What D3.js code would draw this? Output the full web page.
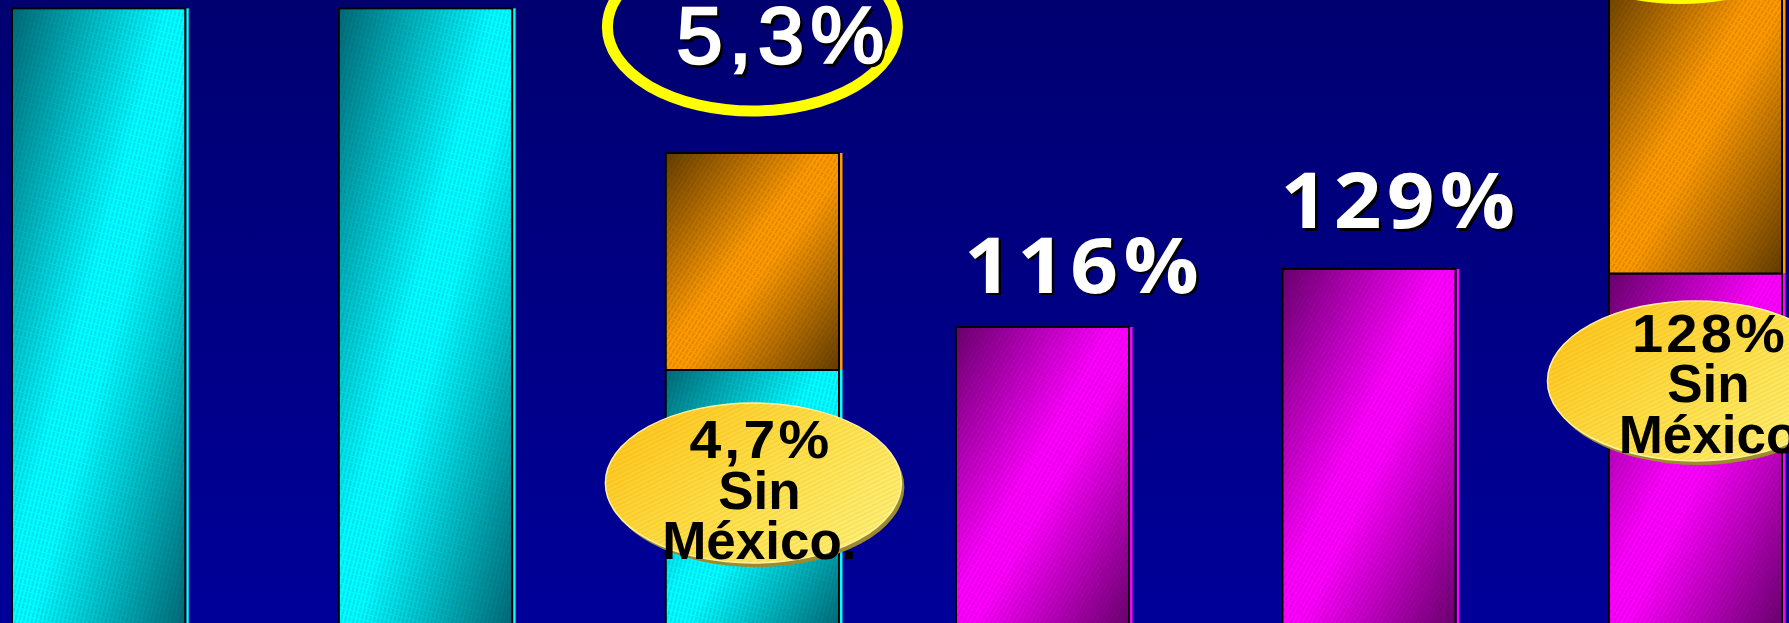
<!DOCTYPE html>
<html>
<head>
<meta charset="utf-8">
<script src="https://cdn.jsdelivr.net/npm/d3@7"></script>
<style>
  html, body { margin: 0; padding: 0; background: #000080; overflow: hidden; }
  svg { display: block; }
</style>
</head>
<body>
<svg id="chart"></svg>
<script>
// ---- data -------------------------------------------------------------
// Left panel: growth rate (%), without and with México
const leftCategories = ["L1", "L2", "L3"];
const leftSinMexico  = [5.7, 5.7, 4.7];
const leftConMexico  = [5.7, 5.7, 5.3];

// Right panel: index (%), without and with México
const rightCategories = ["R1", "R2", "R3"];
const rightSinMexico  = [116, 129, 128];
const rightConMexico  = [116, 129, 195];

// Text shown on the chart
const ringLabel     = "5,3%";
const valueLabels   = ["116%", "129%"];
const bubbleLeft    = ["4,7%", "Sin", "México."];
const bubbleRight   = ["128%", "Sin", "México"];

// ---- layout -----------------------------------------------------------
const W = 1789, H = 623;

const svg = d3.select("#chart").attr("width", W).attr("height", H);
const defs = svg.append("defs");

const xLeft = d3.scaleBand().domain(leftCategories).range([12, 839]).paddingInner(0.47).paddingOuter(0);
const xRight = d3.scaleBand().domain(rightCategories).range([956, 1782]).paddingInner(0.47).paddingOuter(0);
const yLeft = d3.scaleLinear().domain([4.7, 5.3]).range([370, 153]);
const yRight = d3.scaleLinear().domain([0, 129]).range([844.5, 269]);

// ---- paint definitions ------------------------------------------------
const bg = defs.append("linearGradient").attr("id", "bg")
  .attr("x1", 0).attr("y1", 0).attr("x2", 0).attr("y2", 1);
bg.append("stop").attr("offset", 0).attr("stop-color", "#000070");
bg.append("stop").attr("offset", 1).attr("stop-color", "#000099");

const palettes = {
  cyan:    { dark: "#006a70", bright: "#00ffff", hatch: "#0040b0", hatchOp: 0.32, angle: 14 },
  magenta: { dark: "#6a006e", bright: "#ff00ff", hatch: "#400050", hatchOp: 0.28, angle: 30 },
  orange:  { dark: "#633c00", bright: "#ff9a00", hatch: "#4a2a00", hatchOp: 0.30, angle: 32 }
};

Object.entries(palettes).forEach(([name, p]) => {
  const g = defs.append("linearGradient").attr("id", "grad-" + name)
    .attr("x1", 0).attr("y1", 0).attr("x2", 1).attr("y2", 1);
  [[0, p.dark], [0.45, p.bright], [0.55, p.bright], [1, p.dark]].forEach(([o, c]) =>
    g.append("stop").attr("offset", o).attr("stop-color", c));

  const pat = defs.append("pattern").attr("id", "hatch-" + name)
    .attr("patternUnits", "userSpaceOnUse").attr("width", 4).attr("height", 6)
    .attr("patternTransform", `rotate(${p.angle})`);
  pat.append("line").attr("x1", 1).attr("y1", 0).attr("x2", 1).attr("y2", 6)
    .attr("stroke", p.hatch).attr("stroke-opacity", p.hatchOp).attr("stroke-width", 1)
    .attr("stroke-dasharray", "3 1");
});

const yg = defs.append("linearGradient").attr("id", "grad-yellow")
  .attr("x1", 0).attr("y1", 0.2).attr("x2", 1).attr("y2", 0.8);
yg.append("stop").attr("offset", 0).attr("stop-color", "#ffc61c");
yg.append("stop").attr("offset", 0.5).attr("stop-color", "#ffe04a");
yg.append("stop").attr("offset", 1).attr("stop-color", "#fff27a");

const yp = defs.append("pattern").attr("id", "hatch-yellow")
  .attr("patternUnits", "userSpaceOnUse").attr("width", 4).attr("height", 6)
  .attr("patternTransform", "rotate(64)");
yp.append("line").attr("x1", 1).attr("y1", 0).attr("x2", 1).attr("y2", 6)
  .attr("stroke", "#b08a00").attr("stroke-opacity", 0.22).attr("stroke-width", 1);

// ---- background ---------------------------------------------------------
svg.append("rect").attr("width", W).attr("height", H).attr("fill", "url(#bg)");

// ---- bars -------------------------------------------------------------
function segmentsOf(categories, sinVals, conVals, y, baseColor) {
  const segs = [];
  categories.forEach((c, i) => {
    segs.push({ cat: c, top: y(sinVals[i]), bottom: H + 3, color: baseColor });
    if (conVals[i] > sinVals[i]) {
      segs.push({ cat: c, top: y(conVals[i]), bottom: y(sinVals[i]), color: "orange" });
    }
  });
  return segs;
}

function drawBars(segs, x) {
  const g = svg.append("g");
  const s = g.selectAll("g.seg").data(segs).join("g").attr("class", "seg");
  // right-hand depth face
  s.append("rect")
    .attr("x", d => x(d.cat) + x.bandwidth() + 1)
    .attr("y", d => d.top)
    .attr("width", 2.5)
    .attr("height", d => d.bottom - d.top)
    .attr("fill", d => palettes[d.color].bright);
  s.append("rect")
    .attr("x", d => x(d.cat))
    .attr("y", d => d.top)
    .attr("width", x.bandwidth())
    .attr("height", d => d.bottom - d.top)
    .attr("fill", d => `url(#grad-${d.color})`);
  s.append("rect")
    .attr("x", d => x(d.cat))
    .attr("y", d => d.top)
    .attr("width", x.bandwidth())
    .attr("height", d => d.bottom - d.top)
    .attr("fill", d => `url(#hatch-${d.color})`)
    .attr("stroke", "#000")
    .attr("stroke-width", 2);
}

drawBars(segmentsOf(leftCategories, leftSinMexico, leftConMexico, yLeft, "cyan"), xLeft);
drawBars(segmentsOf(rightCategories, rightSinMexico, rightConMexico, yRight, "magenta"), xRight);

// ---- annotations ------------------------------------------------------
const cxL = c => xLeft(c) + xLeft.bandwidth() / 2;
const cxR = c => xRight(c) + xRight.bandwidth() / 2;

// Stretch a centred text horizontally so it spans the given width.
function fitWidth(textSel, cx, y, width) {
  const natural = textSel.node().getComputedTextLength();
  const s = width / natural;
  textSel.attr("x", 0).attr("y", 0)
    .attr("transform", `translate(${cx},${y}) scale(${s},1)`);
}

function shadowText(parent, txt, x, y, opts) {
  const g = parent.append("g")
    .attr("font-family", opts.family)
    .attr("font-weight", opts.weight)
    .attr("font-size", opts.size)
    .attr("letter-spacing", opts.spacing)
    .attr("text-anchor", "middle");
  [["#000", 2.5], ["#fff", 0]].forEach(([fill, off]) => {
    const t = g.append("text").attr("fill", fill).text(txt);
    if (opts.stroke) t.attr("stroke", fill).attr("stroke-width", opts.stroke);
    fitWidth(t, x + off + opts.spacing / 2, y + off, opts.length);
  });
}

function ring(cx, cy) {
  svg.append("ellipse")
    .attr("cx", cx).attr("cy", cy).attr("rx", 145).attr("ry", 84)
    .attr("fill", "none").attr("stroke", "#ffff00").attr("stroke-width", 11);
}

function bubble(cx, cy, lines, textX, firstBaseline, firstLength) {
  const g = svg.append("g");
  g.append("ellipse").attr("cx", cx + 3).attr("cy", cy + 4).attr("rx", 148).attr("ry", 80)
    .attr("fill", "#9c8a2c");
  g.append("ellipse").attr("cx", cx).attr("cy", cy).attr("rx", 148).attr("ry", 80)
    .attr("fill", "url(#grad-yellow)");
  g.append("ellipse").attr("cx", cx).attr("cy", cy).attr("rx", 148).attr("ry", 80)
    .attr("fill", "url(#hatch-yellow)")
    .attr("stroke", "#fff3a0").attr("stroke-width", 1.5);
  const t = g.append("g")
    .attr("font-family", "'Liberation Sans', Arial, sans-serif")
    .attr("font-weight", 700).attr("font-size", 53)
    .attr("text-anchor", "middle").attr("fill", "#000");
  lines.forEach((line, i) => {
    const el = t.append("text").text(line);
    if (i === 0) {
      el.attr("letter-spacing", 3);
      fitWidth(el, textX + 1.5, firstBaseline, firstLength);
    } else {
      el.attr("x", textX).attr("y", firstBaseline + i * 50.5);
    }
  });
}

// Left panel: total with México circled, value without México in a bubble
const c3 = leftCategories[2];
ring(cxL(c3), yLeft(leftConMexico[2]) - 126);
shadowText(svg, ringLabel, cxL(c3) + 28, yLeft(leftConMexico[2]) - 90,
  { family: "'Liberation Sans', Arial, sans-serif", weight: 400, size: 79, length: 214, stroke: 2.6, spacing: 6 });
bubble(cxL(c3) + 1, yLeft(leftSinMexico[2]) + 113, bubbleLeft, cxL(c3) + 7, yLeft(leftSinMexico[2]) + 88, 143);

// Right panel: values above the first two bars
const labelFont = { family: "'Open Sans', 'Noto Sans', sans-serif", weight: 700, size: 78, length: 240, spacing: 5 };
shadowText(svg, valueLabels[0], cxR(rightCategories[0]) + 39, yRight(rightSinMexico[0]) - 34, labelFont);
shadowText(svg, valueLabels[1], cxR(rightCategories[1]) + 29, yRight(rightSinMexico[1]) - 41, labelFont);

// Third bar: bubble over the México boundary, ring at the top of the bar
const r3 = rightCategories[2];
bubble(cxR(r3), yRight(rightSinMexico[2]) + 107.5, bubbleRight, cxR(r3) + 13, yRight(rightSinMexico[2]) + 78.5, 156);
ring(cxR(r3) - 15, yRight(rightConMexico[2]) - 60);
</script>
</body>
</html>
